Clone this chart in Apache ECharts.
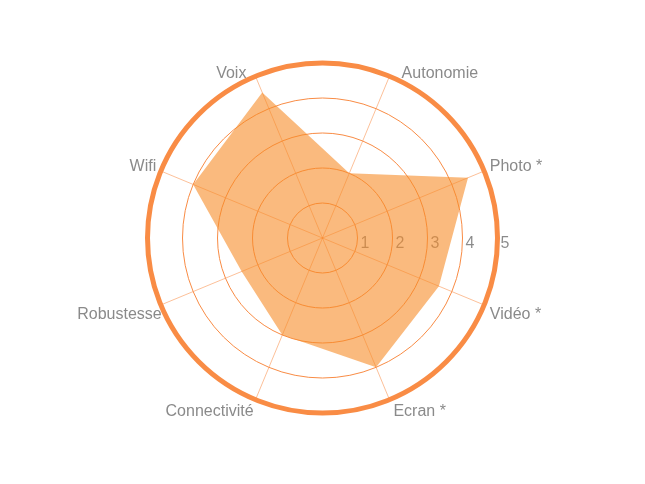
<html>
<head>
<meta charset="utf-8">
<title>Radar</title>
<script src="https://cdn.jsdelivr.net/npm/echarts@6/dist/echarts.min.js"></script>
</head>
<body style="margin:0;background:#fff;">
<div id="main" style="width:645px;height:484px;"></div>
<script>
// indicators, counterclockwise from Autonomie (top right)
var indicators = ['Autonomie', 'Voix', 'Wifi', 'Robustesse', 'Connectivité', 'Ecran *', 'Vidéo *', 'Photo *'];
var scores = [2, 4.5, 4, 2.5, 3, 4, 3.6, 4.5];
var maxScore = 5;
var tickLabels = ['1', '2', '3', '4', '5'];

var orange = '#f98c45';
var font = "'Liberation Sans', Arial, sans-serif";
var center = [322.5, 238];

// small per-label nudges so the names sit like the original
// (top-aligned text, padding top is relative to the anchor)
var namePadding = [
	[-8, 0, 0, 11],
	[-8, 8, 0, 0],
	[-11, 0, 0, 0],
	[2, 0, 0, 0],
	[-1, 0, 0, 0],
	[-1, 0, 0, 2],
	[0, 0, 0, 1],
	[-11, 0, 0, 1]
];
var nameGaps = [3, 3, 5, -1, 5, 5, 5, 5];

var chart = echarts.init(document.getElementById('main'));

var option = {
	backgroundColor: '#fff',
	radar: {
		center: center,
		radius: 175,
		startAngle: 67.5,
		shape: 'circle',
		splitNumber: 5,
		indicator: indicators.map(function (n, i) {
			return {
				name: n, min: 0, max: maxScore,
				nameGap: nameGaps[i],
				nameTextStyle: {verticalAlign: 'top', padding: namePadding[i]}
			};
		}),
		axisName: {
			color: '#8a8a8a',
			fontSize: 16,
			fontFamily: font
		},
		nameGap: 5,
		axisLine: {lineStyle: {color: 'rgba(249,140,69,0.55)', width: 1}},
		splitLine: {lineStyle: {color: orange, width: 1}},
		splitArea: {show: false}
	},
	// polar only used for outer ring + tick labels on the horizontal
	polar: {center: center, radius: 175},
	angleAxis: {
		type: 'value',
		startAngle: 0,
		min: 0,
		max: 360,
		axisLine: {lineStyle: {color: orange, width: 5}},
		axisTick: {show: false},
		axisLabel: {show: false},
		splitLine: {show: false}
	},
	radiusAxis: {
		type: 'value',
		min: 0,
		max: maxScore,
		interval: 1,
		axisLine: {show: false},
		axisTick: {show: false},
		splitLine: {show: false},
		axisLabel: {
			margin: 0,
			align: 'left',
			verticalAlign: 'top',
			padding: [-2, 0, 0, 3],
			color: 'rgba(0,0,0,0.46)',
			fontSize: 16,
			fontFamily: font,
			formatter: function (v) {
				return tickLabels[v - 1] || '';
			}
		}
	},
	series: [{
		type: 'radar',
		symbol: 'none',
		lineStyle: {width: 0},
		areaStyle: {color: 'rgb(247,140,40)', opacity: 0.6},
		data: [{value: scores}]
	}]
};

chart.setOption(option);
</script>
</body>
</html>
